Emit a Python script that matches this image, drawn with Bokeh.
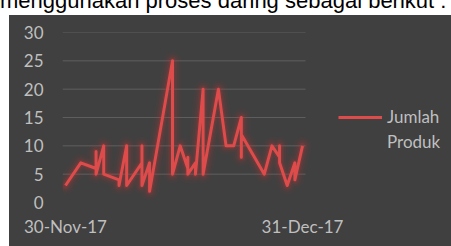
import pandas as pd
from bokeh.plotting import figure
from bokeh.layouts import column, row
from bokeh.models import (Range1d, FixedTicker, DatetimeTickFormatter, Legend,
                          LegendItem, Div, Spacer)
from bokeh.embed import file_html
from bokeh.resources import INLINE

# ---- data ----
heading = "menggunakan proses daring sebagai berikut :"
series_name = "Jumlah Produk"
dates = [
    "2017-11-30", "2017-12-02", "2017-12-04", "2017-12-04", "2017-12-04",
    "2017-12-05", "2017-12-05", "2017-12-07", "2017-12-07", "2017-12-08",
    "2017-12-08", "2017-12-10", "2017-12-10", "2017-12-10", "2017-12-11",
    "2017-12-11", "2017-12-14", "2017-12-14", "2017-12-15", "2017-12-16",
    "2017-12-16", "2017-12-16", "2017-12-17", "2017-12-17", "2017-12-18",
    "2017-12-18", "2017-12-20", "2017-12-21", "2017-12-22", "2017-12-23",
    "2017-12-23", "2017-12-23", "2017-12-26", "2017-12-27", "2017-12-28",
    "2017-12-28", "2017-12-28", "2017-12-29", "2017-12-30", "2017-12-30",
    "2017-12-31",
]
values = [
    3, 7, 6, 9, 5,
    10, 5, 4, 3, 10,
    3, 7, 10, 3, 7,
    2, 25, 5, 10, 6,
    8, 5, 7, 5, 20,
    5, 20, 10, 10, 15,
    8, 12, 5, 10, 8,
    10, 7, 3, 7, 4,
    10,
]
y_ticks = [0, 5, 10, 15, 20, 25, 30]
grid_ticks = [5, 10, 15, 20, 25, 30]
x_tick_dates = ["2017-11-30", "2017-12-31"]

# ---- styling ----
BG = "#404040"
TXT = "#bfbfbf"
RED = "#dd4b4b"
FONT = "Lato"

x = pd.to_datetime(dates)
DAY = 86400000.0
t0 = pd.Timestamp(x_tick_dates[0]).timestamp() * 1000
t1 = pd.Timestamp(x_tick_dates[1]).timestamp() * 1000

# plot area: 243 px for the date span (+padding), the frame continues to the
# right so that the legend sits inside it
PAD = 0.39 * DAY
px_per_ms = 243.0 / (t1 - t0 + 2 * PAD)
FRAME_W = 389
x_start = t0 - PAD
x_end = x_start + FRAME_W / px_per_ms
grid_x0, grid_x1 = t0 - PAD, t1 + PAD

p = figure(width=442, height=231, x_axis_type="datetime",
           output_backend="svg", toolbar_location=None,
           x_range=Range1d(x_start, x_end),
           y_range=Range1d(0, 30),
           min_border_left=53, min_border_right=0,
           min_border_top=17, min_border_bottom=44)
p.background_fill_color = BG
p.border_fill_color = BG
p.outline_line_color = None
p.styles = {"background-color": BG}

# horizontal gridlines, limited to the plotting area
p.xgrid.visible = False
p.ygrid.visible = False
p.segment(x0=[grid_x0] * len(grid_ticks), x1=[grid_x1] * len(grid_ticks),
          y0=grid_ticks, y1=grid_ticks, line_color="#5e5e5e", line_width=1)

# glow
for w, a in [(18, 0.05), (13, 0.07), (9, 0.10), (6, 0.16)]:
    p.line(x, values, line_width=w, line_color="#c83a3a", line_alpha=a,
           line_join="round", line_cap="round")
main = p.line(x, values, line_width=3, line_color=RED, line_join="round")

for ax in (p.xaxis[0], p.yaxis[0]):
    ax.axis_line_color = None
    ax.major_tick_line_color = None
    ax.minor_tick_line_color = None
    ax.major_tick_out = 0
    ax.major_tick_in = 0
    ax.minor_tick_out = 0
    ax.major_label_text_color = TXT
    ax.major_label_text_font = FONT
    ax.major_label_text_font_size = "17px"

p.yaxis.ticker = FixedTicker(ticks=y_ticks)
p.yaxis.major_label_standoff = 19
p.xaxis.ticker = FixedTicker(ticks=[t0, t1])
fmt = "%d-%b-%y"
p.xaxis.formatter = DatetimeTickFormatter(
    milliseconds=fmt, seconds=fmt, minsec=fmt, minutes=fmt, hourmin=fmt,
    hours=fmt, days=fmt, months=fmt, years=fmt)
p.xaxis.major_label_standoff = 13

# legend: series name wrapped over two lines, the sample line on the first
name_lines = series_name.split(" ")
legend = Legend(items=[LegendItem(label=name_lines[0], renderers=[main]),
                       LegendItem(label=name_lines[1], renderers=[])],
                location=(276, 50))
legend.background_fill_alpha = 0
legend.border_line_alpha = 0
legend.padding = 0
legend.margin = 0
legend.spacing = 4
legend.glyph_width = 44
legend.glyph_height = 20
legend.label_height = 20
legend.label_standoff = 5
legend.label_text_font = FONT
legend.label_text_font_size = "17px"
legend.label_text_color = TXT
p.add_layout(legend)

head = Div(
    text=('<div style="position:relative;width:451px;height:15px;overflow:hidden;background:#fff;">'
          '<div style="position:absolute;left:0px;top:-10px;white-space:nowrap;'
          "font-family:'Liberation Sans',Arial,sans-serif;font-size:22px;line-height:22px;color:#000;\">"
          + heading + '</div></div>'),
    width=451, height=15, margin=0, styles={"overflow": "hidden"})

left_strip = Spacer(width=9, height=231, margin=0, styles={"background-color": "#ffffff"})

layout = column(head, row(left_strip, p, spacing=0), spacing=0)

open("out.html", "w").write(file_html(layout, INLINE))
